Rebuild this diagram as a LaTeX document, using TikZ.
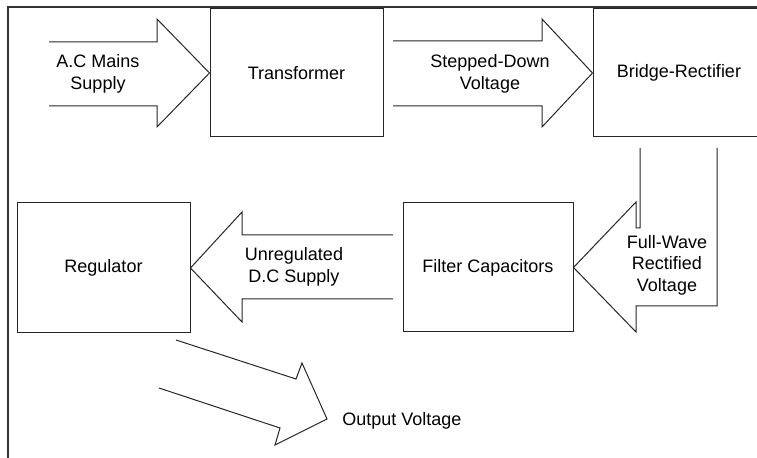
\documentclass[tikz,border=0pt]{standalone}
\usepackage{fontspec}
\setmainfont{Liberation Sans}
\usepackage{tikz}
\usetikzlibrary{positioning}

\begin{document}
\begin{tikzpicture}[
    x=0.5pt, y=-0.5pt,
    every node/.style={font=\fontsize{9}{10.8}\selectfont},
    block/.style={
      draw=black!85, line width=0.5pt,
      inner sep=0pt, align=center,
      minimum height=64pt
    },
    arrowtext/.style={align=center, inner sep=0pt},
    blockarrow/.style={draw=black!85, line width=0.5pt, line join=miter},
    frame/.style={draw=black!80, line width=1pt}
  ]

    \useasboundingbox (0,0) rectangle (757,458);
    \draw[frame] (757,7) -- (8,7) -- (8,458);

    % boxes
    \node[block, minimum width=86.5pt] (trafo) at (296.5,73) {Transformer};
    \node[block, minimum width=86pt] (rect) at (679,73) {Bridge-Rectifier};
    \node[block, minimum width=85pt, minimum height=64.5pt] (filt) at (488,267.5) {Filter Capacitors};
    \node[block, minimum width=86.5pt, minimum height=65pt] (reg) at (103.5,268) {Regulator};

    % block arrows
    \draw[blockarrow] (49,42) -- (157,42) -- (157,19) -- (trafo.west)
      -- (157,127) -- (157,106) -- (49,106);
    \draw[blockarrow] (393,41) -- (542,41) -- (542,19) -- (rect.west)
      -- (542,127) -- (542,106) -- (393,106);
    \draw[blockarrow] (640,148) -- (640,228) -- (636,228) -- (636,202) -- (filt.east)
      -- (636,332) -- (636,306) -- (717,306) -- (717,148);
    \draw[blockarrow] (393,235) -- (242,235) -- (242,212) -- (reg.east)
      -- (242,322) -- (242,299) -- (393,299);
    \coordinate (outtip) at (327,419);
    \draw[blockarrow] (176,340) -- (296,379) -- (302,363) -- (outtip)
      -- (275,445) -- (280,428) -- (159,388);

    % arrow texts
    \node[arrowtext] (acin) at (98,74) {A.C Mains\\Supply};
    \node[arrowtext] (stepv) at (490,74) {Stepped-Down\\Voltage};
    \node[arrowtext] (fullv) at (667,265) {Full-Wave\\Rectified\\Voltage};
    \node[arrowtext] (unreg) at (294,267) {Unregulated\\D.C Supply};
    \node[arrowtext, anchor=west] (outv) at (342,421) {Output Voltage};

  \end{tikzpicture}
\end{document}
